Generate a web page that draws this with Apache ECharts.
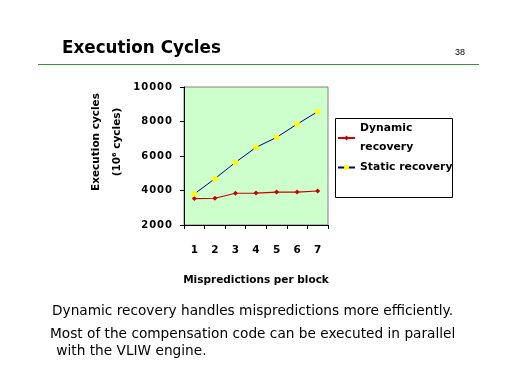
<!DOCTYPE html>
<html>
<head>
<meta charset="utf-8">
<script src="https://cdn.jsdelivr.net/npm/echarts@6/dist/echarts.min.js"></script>
<style>
html,body{margin:0;padding:0;background:#fff;}
#c{width:512px;height:384px;}
</style>
</head>
<body>
<div id="c"></div>
<script>
var categories = ['1', '2', '3', '4', '5', '6', '7'];
var dynamicRecovery = [3530, 3550, 3840, 3850, 3910, 3910, 3970];
var staticRecovery = [3800, 4680, 5630, 6500, 7080, 7850, 8570];
var yTicks = [2000, 4000, 6000, 8000, 10000];

var F = 'DejaVu Sans';
var chart = echarts.init(document.getElementById('c'), null, {renderer: 'canvas'});
chart.setOption({
  animation: false,
  backgroundColor: '#ffffff',
  grid: {
    left: 184, top: 87, width: 144, height: 138,
    show: true, backgroundColor: '#ccffcc', borderColor: '#808080', borderWidth: 1
  },
  legend: {
    left: 337, top: 119, orient: 'vertical', itemWidth: 17, itemHeight: 6, itemGap: 1, padding: 0,
    textStyle: {fontFamily: F, fontWeight: 'bold', fontSize: 10.8, color: '#000', lineHeight: 19},
    data: [{name: 'Dynamic\nrecovery'}, {name: 'Static recovery'}]
  },
  xAxis: {
    type: 'category', data: categories, boundaryGap: true,
    name: 'Mispredictions per block', nameLocation: 'middle', nameGap: 50,
    nameTextStyle: {fontFamily: F, fontWeight: 'bold', fontSize: 10.5, color: '#000'},
    axisLine: {lineStyle: {color: '#000', width: 1}},
    axisTick: {show: true, length: 4, alignWithLabel: false, lineStyle: {color: '#000'}},
    axisLabel: {fontFamily: F, fontWeight: 'bold', fontSize: 10.5, color: '#000', margin: 20},
    splitLine: {show: false}
  },
  yAxis: {
    type: 'value', min: 2000, max: 10000, interval: 2000,
    name: 'Execution cycles\n(10\u2076 cycles)', nameLocation: 'middle', nameGap: 56, nameRotate: 90,
    nameTextStyle: {fontFamily: F, fontWeight: 'bold', fontSize: 10.5, color: '#000', lineHeight: 21, padding: [0, 0, 0, 28]},
    axisLine: {show: true, lineStyle: {color: '#000', width: 1}},
    axisTick: {show: true, length: 4, inside: false, lineStyle: {color: '#000'}},
    axisLabel: {fontFamily: F, fontWeight: 'bold', fontSize: 10, color: '#000', margin: 12,
      formatter: function (v) { return yTicks.indexOf(v) >= 0 ? String(v).split('').join('\u200a') : ''; }},
    splitLine: {show: false}
  },
  series: [
    {
      name: 'Dynamic\nrecovery', type: 'line', data: dynamicRecovery,
      symbol: 'diamond', symbolSize: 5,
      lineStyle: {color: '#cc0000', width: 1.2},
      itemStyle: {color: '#cc0000'}
    },
    {
      name: 'Static recovery', type: 'line', data: staticRecovery,
      symbol: 'rect', symbolSize: 5,
      lineStyle: {color: '#000080', width: 1},
      itemStyle: {color: '#ffff00', borderWidth: 0}
    }
  ],
  graphic: [
    {type: 'text', left: 62, top: 40, style: {text: 'Execution Cycles', fontFamily: F, fontWeight: 'bold', fontSize: 16.8, fill: '#000'}},
    {type: 'text', left: 455, top: 48, style: {text: '38', fontFamily: 'Liberation Sans', fontSize: 9, fill: '#000'}},
    {type: 'line', shape: {x1: 38, y1: 64.5, x2: 479, y2: 64.5}, style: {stroke: '#339933', lineWidth: 1}},
    {type: 'rect', shape: {x: 335.5, y: 118.5, width: 117, height: 79}, style: {fill: 'none', stroke: '#000', lineWidth: 1}, z: 10},
    {type: 'text', left: 52, top: 304, style: {text: 'Dynamic recovery handles mispredictions more efficiently.', fontFamily: F, fontSize: 13.7, fill: '#000'}},
    {type: 'text', left: 50, top: 327, style: {text: 'Most of the compensation code can be executed in parallel', fontFamily: F, fontSize: 13.7, fill: '#000'}},
    {type: 'text', left: 52, top: 344, style: {text: ' with the VLIW engine.', fontFamily: F, fontSize: 13.7, fill: '#000'}}
  ]
});
</script>
</body>
</html>
